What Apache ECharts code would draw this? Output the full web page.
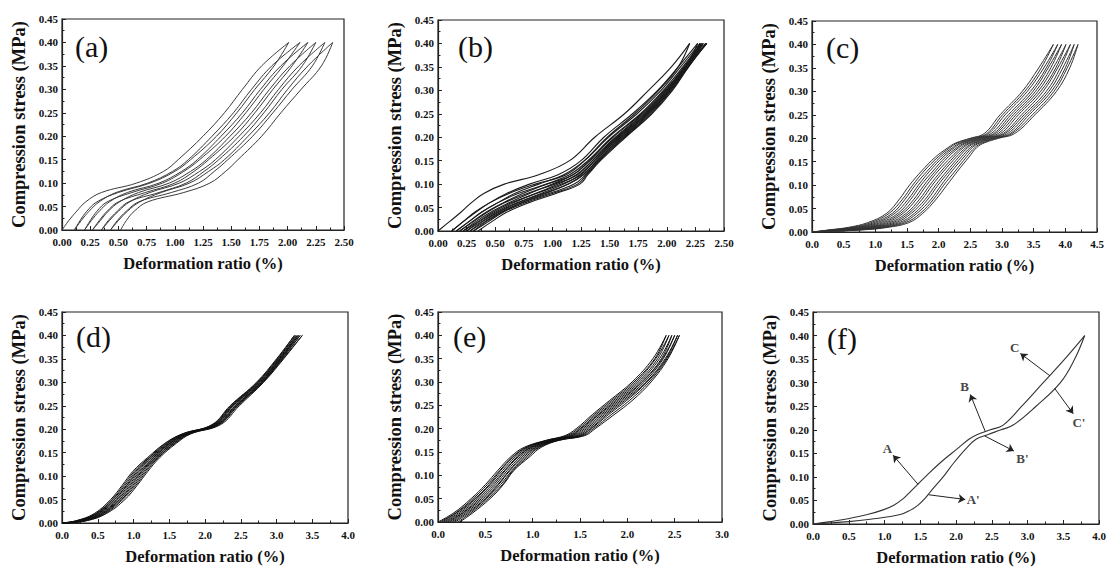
<!DOCTYPE html>
<html><head><meta charset="utf-8">
<script src="https://cdn.jsdelivr.net/npm/echarts@6/dist/echarts.min.js"></script>
<style>html,body{margin:0;padding:0;background:#fff}#chart{width:1109px;height:570px}</style>
</head><body><div id="chart"></div>
<script>
// ---------- Panel (a): stress levels and x (deformation %) of each loading / unloading curve ----------
const aStress = [0, 0.02, 0.04, 0.06, 0.08, 0.10, 0.125, 0.15, 0.20, 0.25, 0.30, 0.35, 0.40];
const aCurves = [
  [0.00, 0.06, 0.13, 0.21, 0.35, 0.66, 0.90, 1.03, 1.25, 1.44, 1.60, 1.77, 2.01],
  [0.11, 0.16, 0.22, 0.31, 0.50, 0.78, 1.00, 1.14, 1.37, 1.55, 1.71, 1.88, 2.01],
  [0.11, 0.17, 0.24, 0.33, 0.48, 0.76, 0.98, 1.12, 1.33, 1.52, 1.68, 1.86, 2.11],
  [0.20, 0.25, 0.31, 0.40, 0.62, 0.89, 1.08, 1.22, 1.45, 1.63, 1.79, 1.96, 2.11],
  [0.20, 0.26, 0.33, 0.42, 0.58, 0.86, 1.06, 1.20, 1.41, 1.60, 1.76, 1.94, 2.18],
  [0.27, 0.33, 0.40, 0.50, 0.74, 1.00, 1.17, 1.30, 1.53, 1.71, 1.87, 2.04, 2.18],
  [0.27, 0.34, 0.41, 0.51, 0.68, 0.95, 1.14, 1.28, 1.49, 1.68, 1.84, 2.02, 2.25],
  [0.35, 0.41, 0.49, 0.59, 0.86, 1.10, 1.26, 1.39, 1.61, 1.79, 1.95, 2.13, 2.25],
  [0.35, 0.42, 0.50, 0.60, 0.78, 1.04, 1.22, 1.36, 1.57, 1.76, 1.92, 2.10, 2.33],
  [0.43, 0.49, 0.57, 0.68, 0.97, 1.21, 1.35, 1.47, 1.69, 1.87, 2.04, 2.22, 2.33],
  [0.43, 0.50, 0.58, 0.69, 0.88, 1.13, 1.30, 1.44, 1.65, 1.84, 2.00, 2.18, 2.40],
  [0.52, 0.57, 0.64, 0.76, 1.08, 1.31, 1.45, 1.56, 1.77, 1.94, 2.12, 2.30, 2.40]
];

// ---------- Panel (b) ----------
const bStress = [0, 0.02, 0.04, 0.06, 0.08, 0.10, 0.12, 0.15, 0.20, 0.25, 0.30, 0.35, 0.40];
const bCurves = [
  [0.00, 0.10, 0.20, 0.29, 0.40, 0.58, 0.88, 1.15, 1.37, 1.63, 1.84, 2.04, 2.20],
  [0.12, 0.22, 0.32, 0.45, 0.62, 0.85, 1.12, 1.28, 1.48, 1.72, 1.93, 2.10, 2.20],
  [0.12, 0.22, 0.33, 0.45, 0.60, 0.80, 1.05, 1.25, 1.45, 1.70, 1.92, 2.10, 2.27],
  [0.16, 0.27, 0.38, 0.52, 0.70, 0.95, 1.18, 1.32, 1.53, 1.78, 1.98, 2.16, 2.27],
  [0.16, 0.27, 0.38, 0.52, 0.67, 0.88, 1.10, 1.28, 1.49, 1.74, 1.95, 2.12, 2.29],
  [0.19, 0.31, 0.43, 0.58, 0.78, 1.02, 1.22, 1.35, 1.56, 1.80, 2.00, 2.17, 2.29],
  [0.19, 0.30, 0.42, 0.57, 0.74, 0.95, 1.15, 1.31, 1.52, 1.77, 1.97, 2.14, 2.30],
  [0.22, 0.35, 0.48, 0.64, 0.86, 1.08, 1.25, 1.37, 1.58, 1.82, 2.01, 2.17, 2.30],
  [0.22, 0.33, 0.46, 0.62, 0.80, 1.00, 1.18, 1.33, 1.55, 1.79, 1.99, 2.15, 2.31],
  [0.25, 0.38, 0.52, 0.69, 0.92, 1.14, 1.27, 1.39, 1.60, 1.83, 2.02, 2.18, 2.31],
  [0.25, 0.36, 0.50, 0.66, 0.85, 1.05, 1.21, 1.35, 1.57, 1.81, 2.00, 2.16, 2.32],
  [0.28, 0.41, 0.55, 0.73, 0.97, 1.19, 1.29, 1.40, 1.62, 1.85, 2.03, 2.18, 2.32],
  [0.28, 0.39, 0.53, 0.70, 0.90, 1.10, 1.24, 1.37, 1.59, 1.83, 2.02, 2.17, 2.34],
  [0.31, 0.44, 0.57, 0.76, 1.00, 1.22, 1.30, 1.41, 1.63, 1.86, 2.04, 2.19, 2.34],
  [0.31, 0.42, 0.56, 0.73, 0.94, 1.14, 1.27, 1.39, 1.61, 1.84, 2.03, 2.18, 2.35],
  [0.35, 0.47, 0.60, 0.79, 1.03, 1.24, 1.31, 1.42, 1.64, 1.87, 2.05, 2.19, 2.35]
];

// ---------- Panel (c) ----------
const cStress = [0, 0.005, 0.01, 0.02, 0.04, 0.07, 0.10, 0.13, 0.16, 0.18, 0.19, 0.20, 0.21, 0.25, 0.30, 0.35, 0.40];
const cCurves = [
  [0.00, 0.30, 0.58, 0.88, 1.18, 1.38, 1.54, 1.73, 1.95, 2.15, 2.27, 2.50, 2.72, 2.97, 3.32, 3.58, 3.81],
  [0.01, 0.34, 0.63, 0.93, 1.22, 1.43, 1.59, 1.77, 1.99, 2.18, 2.30, 2.53, 2.76, 3.01, 3.36, 3.62, 3.81],
  [0.02, 0.38, 0.68, 0.98, 1.27, 1.47, 1.63, 1.82, 2.03, 2.22, 2.34, 2.57, 2.79, 3.05, 3.40, 3.66, 3.88],
  [0.02, 0.43, 0.72, 1.03, 1.31, 1.52, 1.68, 1.86, 2.07, 2.25, 2.37, 2.60, 2.83, 3.10, 3.45, 3.70, 3.88],
  [0.03, 0.47, 0.77, 1.08, 1.36, 1.56, 1.72, 1.91, 2.11, 2.29, 2.41, 2.64, 2.87, 3.14, 3.49, 3.73, 3.94],
  [0.04, 0.51, 0.82, 1.13, 1.40, 1.61, 1.77, 1.95, 2.15, 2.32, 2.44, 2.67, 2.90, 3.18, 3.53, 3.77, 3.94],
  [0.05, 0.55, 0.87, 1.18, 1.44, 1.65, 1.81, 1.99, 2.20, 2.36, 2.48, 2.71, 2.94, 3.22, 3.57, 3.81, 4.01],
  [0.05, 0.59, 0.91, 1.23, 1.49, 1.70, 1.86, 2.04, 2.24, 2.39, 2.51, 2.74, 2.98, 3.26, 3.61, 3.85, 4.01],
  [0.06, 0.64, 0.96, 1.28, 1.53, 1.74, 1.90, 2.08, 2.28, 2.43, 2.55, 2.78, 3.02, 3.31, 3.65, 3.88, 4.08],
  [0.07, 0.68, 1.01, 1.33, 1.57, 1.79, 1.95, 2.13, 2.32, 2.46, 2.58, 2.81, 3.05, 3.35, 3.70, 3.92, 4.08],
  [0.08, 0.72, 1.06, 1.38, 1.62, 1.83, 1.99, 2.17, 2.36, 2.50, 2.62, 2.85, 3.09, 3.39, 3.74, 3.96, 4.14],
  [0.08, 0.76, 1.10, 1.43, 1.66, 1.88, 2.04, 2.21, 2.40, 2.53, 2.65, 2.88, 3.13, 3.43, 3.78, 4.00, 4.14],
  [0.09, 0.81, 1.15, 1.48, 1.71, 1.92, 2.08, 2.26, 2.44, 2.57, 2.69, 2.92, 3.16, 3.48, 3.82, 4.03, 4.20],
  [0.10, 0.85, 1.20, 1.53, 1.75, 1.96, 2.13, 2.30, 2.48, 2.60, 2.72, 2.95, 3.20, 3.52, 3.86, 4.07, 4.20]
];

// ---------- Panel (d) ----------
const dStress = [0, 0.005, 0.02, 0.05, 0.08, 0.11, 0.14, 0.17, 0.19, 0.21, 0.25, 0.30, 0.35, 0.40];
const dCurves = [
  [0.00, 0.20, 0.45, 0.68, 0.84, 0.99, 1.20, 1.44, 1.68, 2.10, 2.35, 2.72, 3.00, 3.25],
  [0.00, 0.21, 0.47, 0.70, 0.86, 1.01, 1.22, 1.45, 1.69, 2.11, 2.36, 2.73, 3.01, 3.25],
  [0.01, 0.23, 0.48, 0.71, 0.88, 1.03, 1.23, 1.47, 1.70, 2.12, 2.37, 2.74, 3.02, 3.27],
  [0.01, 0.24, 0.49, 0.73, 0.90, 1.05, 1.25, 1.48, 1.71, 2.13, 2.38, 2.75, 3.03, 3.27],
  [0.02, 0.26, 0.51, 0.74, 0.91, 1.07, 1.26, 1.50, 1.72, 2.14, 2.39, 2.76, 3.04, 3.29],
  [0.02, 0.27, 0.52, 0.76, 0.93, 1.09, 1.28, 1.51, 1.73, 2.15, 2.40, 2.77, 3.05, 3.29],
  [0.03, 0.28, 0.54, 0.78, 0.95, 1.11, 1.29, 1.52, 1.74, 2.16, 2.42, 2.78, 3.05, 3.31],
  [0.03, 0.30, 0.55, 0.80, 0.97, 1.12, 1.31, 1.54, 1.75, 2.17, 2.43, 2.79, 3.06, 3.31],
  [0.04, 0.31, 0.57, 0.81, 0.99, 1.14, 1.32, 1.55, 1.76, 2.18, 2.44, 2.80, 3.07, 3.33],
  [0.04, 0.32, 0.58, 0.83, 1.01, 1.16, 1.34, 1.57, 1.77, 2.19, 2.45, 2.80, 3.08, 3.33],
  [0.05, 0.34, 0.60, 0.85, 1.03, 1.18, 1.35, 1.58, 1.79, 2.20, 2.46, 2.81, 3.09, 3.36],
  [0.05, 0.35, 0.62, 0.88, 1.05, 1.20, 1.37, 1.60, 1.80, 2.22, 2.48, 2.82, 3.10, 3.36]
];

// ---------- Panel (e) ----------
const eStress = [0, 0.02, 0.05, 0.08, 0.11, 0.14, 0.16, 0.175, 0.185, 0.20, 0.23, 0.26, 0.30, 0.35, 0.40];
const eCurves = [
  [0.00, 0.17, 0.35, 0.50, 0.63, 0.77, 0.91, 1.14, 1.34, 1.46, 1.63, 1.81, 2.05, 2.27, 2.41],
  [0.02, 0.19, 0.37, 0.52, 0.65, 0.79, 0.93, 1.15, 1.36, 1.48, 1.65, 1.83, 2.07, 2.29, 2.41],
  [0.04, 0.20, 0.39, 0.54, 0.66, 0.80, 0.94, 1.17, 1.38, 1.50, 1.67, 1.85, 2.09, 2.30, 2.44],
  [0.06, 0.22, 0.40, 0.55, 0.68, 0.82, 0.96, 1.18, 1.40, 1.51, 1.69, 1.87, 2.11, 2.32, 2.44],
  [0.08, 0.24, 0.42, 0.57, 0.70, 0.84, 0.98, 1.19, 1.41, 1.53, 1.70, 1.89, 2.13, 2.34, 2.47],
  [0.10, 0.26, 0.44, 0.59, 0.71, 0.85, 0.99, 1.21, 1.43, 1.55, 1.72, 1.91, 2.15, 2.36, 2.47],
  [0.12, 0.27, 0.46, 0.61, 0.73, 0.87, 1.01, 1.22, 1.45, 1.57, 1.74, 1.93, 2.16, 2.37, 2.50],
  [0.14, 0.29, 0.48, 0.63, 0.75, 0.89, 1.03, 1.23, 1.47, 1.59, 1.76, 1.95, 2.18, 2.38, 2.50],
  [0.16, 0.31, 0.50, 0.64, 0.76, 0.91, 1.04, 1.25, 1.49, 1.61, 1.78, 1.97, 2.20, 2.40, 2.53],
  [0.18, 0.33, 0.51, 0.66, 0.78, 0.93, 1.06, 1.26, 1.51, 1.62, 1.80, 1.99, 2.21, 2.41, 2.53],
  [0.21, 0.35, 0.53, 0.68, 0.79, 0.95, 1.07, 1.27, 1.53, 1.64, 1.83, 2.02, 2.23, 2.42, 2.55],
  [0.23, 0.37, 0.55, 0.69, 0.80, 0.97, 1.09, 1.28, 1.55, 1.66, 1.86, 2.05, 2.25, 2.43, 2.55]
];

// ---------- Panel (f): single loop with annotations ----------
const fStress = [0, 0.005, 0.01, 0.02, 0.03, 0.04, 0.055, 0.07, 0.10, 0.13, 0.16, 0.18, 0.19, 0.20, 0.21, 0.25, 0.30, 0.35, 0.40];
const fCurves = [
  [0.00, 0.25, 0.45, 0.76, 0.98, 1.13, 1.27, 1.37, 1.57, 1.78, 2.02, 2.18, 2.30, 2.48, 2.66, 2.92, 3.22, 3.52, 3.80],
  [0.00, 0.50, 0.80, 1.22, 1.37, 1.47, 1.57, 1.65, 1.82, 1.97, 2.14, 2.28, 2.45, 2.63, 2.80, 3.12, 3.46, 3.66, 3.80]
];
const fLabels = ['A', "A'", 'B', "B'", 'C', "C'"];
const fArrowFrom = [[1.47, 0.084], [1.62, 0.062], [2.41, 0.196], [2.40, 0.187], [3.31, 0.315], [3.38, 0.288]];
const fArrowTo   = [[1.12, 0.146], [2.13, 0.052], [2.20, 0.275], [2.81, 0.155], [2.90, 0.362], [3.64, 0.234]];
const fLabelAt   = [[1.04, 0.160], [2.24, 0.052], [2.12, 0.292], [2.93, 0.140], [2.82, 0.375], [3.72, 0.216]];

// ---------- axes ----------
const panelNames = ['(a)', '(b)', '(c)', '(d)', '(e)', '(f)'];
const xMaxes = [2.5, 2.5, 4.5, 4.0, 3.0, 4.0];
const xSteps = [0.25, 0.25, 0.5, 0.5, 0.5, 0.5];
const xDecimals = [2, 2, 1, 1, 1, 1];
const yMax = 0.45, yStep = 0.05;
const xName = 'Deformation ratio (%)';
const yName = 'Compression stress (MPa)';

// ---------- layout ----------
const grids = [
  {left: 62, top: 19, width: 282, height: 211},
  {left: 438, top: 20, width: 286, height: 211},
  {left: 812, top: 21, width: 285, height: 211},
  {left: 62, top: 312, width: 286, height: 211},
  {left: 438, top: 312, width: 284, height: 210},
  {left: 813, top: 312, width: 286, height: 212}
];
const labelPos = [[75, 31], [458, 31], [826, 32], [76, 321], [453, 321], [827, 323]];

const SERIF = '"Liberation Serif", "Times New Roman", serif';
const panelStress = [aStress, bStress, cStress, dStress, eStress, fStress];
const panelCurves = [aCurves, bCurves, cCurves, dCurves, eCurves, fCurves];
const lineColors = ['#3a3a3a', '#1a1a1a', '#333', '#111', '#111', '#333'];
const lineWidths = [1, 1.1, 1, 1, 1, 1.1];

const xAxes = grids.map((g, i) => ({
  type: 'value', gridIndex: i, min: 0, max: xMaxes[i], interval: xSteps[i],
  name: xName, nameLocation: 'middle', nameGap: 25,
  nameTextStyle: {fontFamily: SERIF, fontWeight: 'bold', fontSize: 16.5, color: '#111'},
  axisLine: {show: true, onZero: false, lineStyle: {color: '#222', width: 1.2}},
  axisTick: {show: true, inside: true, length: 4, lineStyle: {color: '#222'}},
  minorTick: {show: true, splitNumber: 2, length: 2.5, lineStyle: {color: '#222'}},
  splitLine: {show: false},
  axisLabel: {fontFamily: SERIF, fontWeight: 'bold', fontSize: 11, color: '#111', margin: 6,
    showMinLabel: true, showMaxLabel: true, hideOverlap: false,
    formatter: v => v.toFixed(xDecimals[i])}
}));
const yAxes = grids.map((g, i) => ({
  type: 'value', gridIndex: i, min: 0, max: yMax, interval: yStep,
  name: yName, nameLocation: 'middle', nameGap: 34,
  nameTextStyle: {fontFamily: SERIF, fontWeight: 'bold', fontSize: 18.5, color: '#111'},
  axisLine: {show: true, onZero: false, lineStyle: {color: '#222', width: 1.2}},
  axisTick: {show: true, inside: true, length: 4, lineStyle: {color: '#222'}},
  minorTick: {show: true, splitNumber: 2, length: 2.5, lineStyle: {color: '#222'}},
  splitLine: {show: false},
  axisLabel: {fontFamily: SERIF, fontWeight: 'bold', fontSize: 11, color: '#111', margin: 4,
    showMinLabel: true, showMaxLabel: true, hideOverlap: false,
    formatter: v => v.toFixed(2)}
}));

const series = [];
panelCurves.forEach((curves, gi) => {
  const stress = panelStress[gi];
  curves.forEach(xs => {
    series.push({
      type: 'line', xAxisIndex: gi, yAxisIndex: gi, silent: true,
      showSymbol: false, symbol: 'none', smooth: 0.4,
      lineStyle: {color: lineColors[gi], width: lineWidths[gi]},
      data: xs.map((x, k) => [x, stress[k]])
    });
  });
});
// arrows of panel (f)
series.push({
  type: 'line', xAxisIndex: 5, yAxisIndex: 5, silent: true, data: [], showSymbol: false,
  markLine: {
    silent: true, animation: false, symbol: ['none', 'arrow'], symbolSize: 7,
    lineStyle: {color: '#222', width: 1, type: 'solid'}, label: {show: false},
    data: fArrowFrom.map((p, k) => [{coord: p}, {coord: fArrowTo[k]}])
  }
});
// labels of panel (f)
series.push({
  type: 'scatter', xAxisIndex: 5, yAxisIndex: 5, silent: true, symbolSize: 0,
  label: {show: true, position: 'inside', formatter: p => p.name,
    fontFamily: SERIF, fontWeight: 'bold', fontSize: 13, color: '#111'},
  data: fLabelAt.map((p, k) => ({name: fLabels[k], value: p}))
});

const option = {
  animation: false,
  backgroundColor: '#fff',
  title: panelNames.map((t, i) => ({
    text: t, left: labelPos[i][0], top: labelPos[i][1], padding: 0,
    textStyle: {fontFamily: SERIF, fontWeight: 'normal', fontSize: 30, color: '#111'}
  })),
  grid: grids.map(g => Object.assign({show: true, borderColor: '#222', borderWidth: 1.2, backgroundColor: 'transparent', containLabel: false}, g)),
  xAxis: xAxes,
  yAxis: yAxes,
  series: series
};

const chart = echarts.init(document.getElementById('chart'), null, {renderer: 'svg'});
chart.setOption(option);
</script>
</body></html>
